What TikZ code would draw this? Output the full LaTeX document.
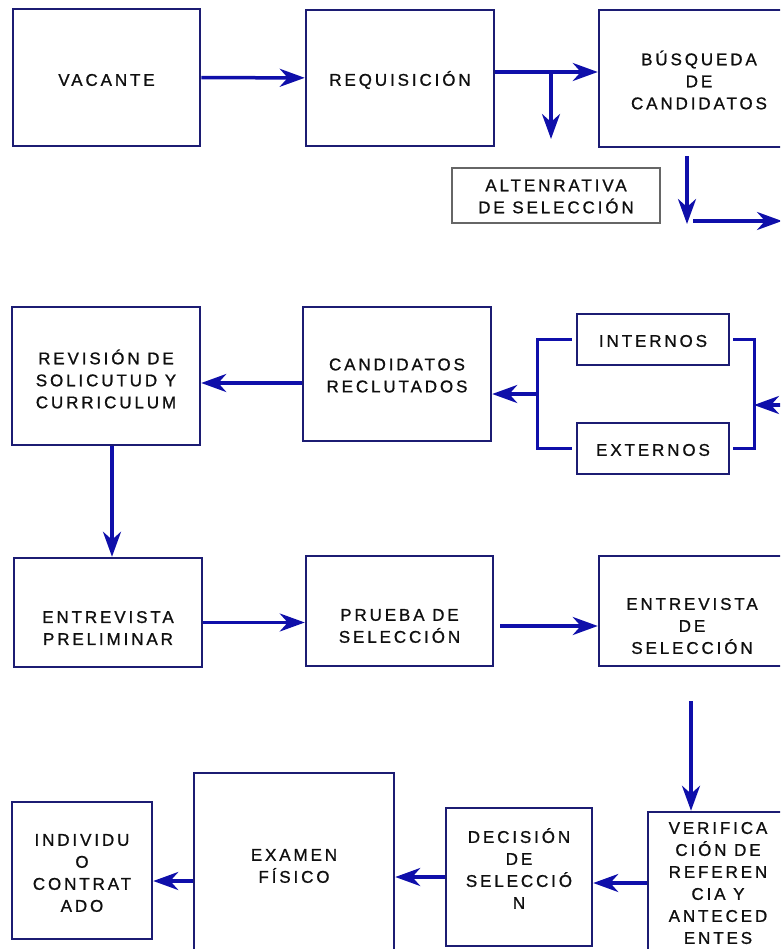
\documentclass[tikz,border=0pt]{standalone}
\usepackage{fontspec}
\setmainfont{Liberation Sans}[LetterSpace=17, FakeBold=1]
\usetikzlibrary{arrows.meta}

\definecolor{marco}{RGB}{28,28,115}
\definecolor{flecha}{RGB}{15,15,170}
\definecolor{texto}{RGB}{15,15,15}

\tikzset{
  caja/.style={draw=marco, line width=2.5pt, inner sep=0pt},
  txt/.style={align=center, text=texto, font=\fontsize{17}{22}\selectfont},
  flec/.style={draw=flecha, line width=3.5pt, -{Stealth[length=25pt,width=18pt,inset=8pt]}},
  linea/.style={draw=flecha, line width=3pt}
}

\begin{document}
\begin{tikzpicture}[x=1pt, y=-1pt]
  \useasboundingbox (0,0) rectangle (780,949);
  \clip (0,0) rectangle (780,949);

  % primera fila
  \node[caja, minimum width=187pt, minimum height=137pt, label={[txt, yshift=-2.5pt]center:VACANTE}] (vac) at (106.5,77.5) {};
  \node[caja, minimum width=188pt, minimum height=136pt, label={[txt, yshift=-2pt]center:REQUISICIÓN}] (req) at (400,78) {};
  \node[caja, minimum width=200pt, minimum height=137pt, label={[txt, yshift=-1.5pt]center:{BÚSQUEDA\\DE\\CANDIDATOS}}] (bus) at (699,78.5) {};
  \node[draw=black!60, line width=1.2pt, minimum width=208pt, minimum height=55pt, label={[txt, yshift=-1pt]center:{ALTENRATIVA\\DE SELECCIÓN}}] (alt) at (556,195.5) {};

  \draw[flec] (vac) -- (req);
  \draw[flec] ([yshift=6pt]req.east) -- ([yshift=6pt]req.east -| bus.west);
  \coordinate (rama) at (551,72);
  \coordinate (ramaFin) at (551,139);
  \draw[flec] (rama) -- (ramaFin);
  \coordinate (busBajo) at (687,224);
  \draw[flec, shorten <=8pt] ([xshift=-12pt]bus.south) -- (busBajo);
  \coordinate (salida) at (693,221);
  \coordinate (salidaFin) at (782,221);
  \draw[flec] (salida) -- (salidaFin);

  % segunda fila
  \node[caja, minimum width=188pt, minimum height=138pt, label={[txt, yshift=-3pt]center:{REVISIÓN DE\\SOLICUTUD Y\\CURRICULUM}}] (rev) at (106,376) {};
  \node[caja, minimum width=188pt, minimum height=134pt, label={[txt, yshift=-1.5pt]center:{CANDIDATOS\\RECLUTADOS}}] (cand) at (397,374) {};
  \node[caja, minimum width=152pt, minimum height=51pt, label={[txt, yshift=-1.5pt]center:INTERNOS}] (int) at (653,339.5) {};
  \node[caja, minimum width=152pt, minimum height=51pt, label={[txt, yshift=-1.5pt]center:EXTERNOS}] (ext) at (653,448.5) {};

  \coordinate (der) at (754,405);
  \coordinate (derIn) at (790,405);
  \draw[flec] (derIn) -- (der);
  \draw[linea] ([xshift=3pt]int.east) -| (der) |- ([xshift=3pt]ext.east);
  \coordinate (izq) at (537,394);
  \draw[linea] ([xshift=-4pt]int.west) -| (izq) |- ([xshift=-4pt]ext.west);
  \draw[flec] (izq) -- (izq -| cand.east);
  \draw[flec] ([yshift=-9pt]cand.west) -- ([yshift=-9pt]cand.west -| rev.east);

  % tercera fila
  \node[caja, minimum width=188pt, minimum height=109pt, label={[txt, yshift=-15.5pt]center:{ENTREVISTA\\PRELIMINAR}}] (entP) at (108,612.5) {};
  \node[caja, minimum width=187pt, minimum height=110pt, label={[txt, yshift=-15pt]center:{PRUEBA DE\\SELECCIÓN}}] (prueba) at (399.5,611) {};
  \node[caja, minimum width=186pt, minimum height=110pt, label={[txt, yshift=-15pt]center:{ENTREVISTA\\DE\\SELECCIÓN}}] (entS) at (692,611) {};

  \draw[flec] ([xshift=6pt]rev.south) -- ([xshift=6pt]rev.south |- entP.north);
  \draw[flec] ([yshift=-10pt]entP.east) -- ([yshift=-10pt]entP.east -| prueba.west);
  \draw[flec, shorten <=6pt] ([yshift=-15pt]prueba.east) -- ([yshift=-15pt]prueba.east -| entS.west);

  % cuarta fila
  \node[caja, minimum width=140pt, minimum height=137pt, label={[txt, yshift=-2.5pt]center:{INDIVIDU\\O\\CONTRAT\\ADO}}] (ind) at (82,870.5) {};
  \node[caja, minimum width=200pt, minimum height=186pt, label={[txt]center:{EXAMEN\\FÍSICO}}] (exa) at (294,866) {};
  \node[caja, minimum width=146pt, minimum height=138pt, label={[txt, yshift=8.5pt]center:{DECISIÓN\\DE\\SELECCIÓ\\N}}] (dec) at (519,877) {};
  \node[caja, minimum width=140pt, minimum height=142pt, label={[txt]center:{VERIFICA\\CIÓN DE\\REFEREN\\CIA Y\\ANTECED\\ENTES}}] (ver) at (718,883) {};

  \draw[flec, shorten <=34pt] ([xshift=-1pt]entS.south) -- ([xshift=-1pt]entS.south |- ver.north);
  \draw[flec] (ver.west) -- (ver.west -| dec.east);
  \draw[flec] (dec.west) -- (dec.west -| exa.east);
  \draw[flec] ([yshift=-15pt]exa.west) -- ([yshift=-15pt]exa.west -| ind.east);
\end{tikzpicture}
\end{document}
